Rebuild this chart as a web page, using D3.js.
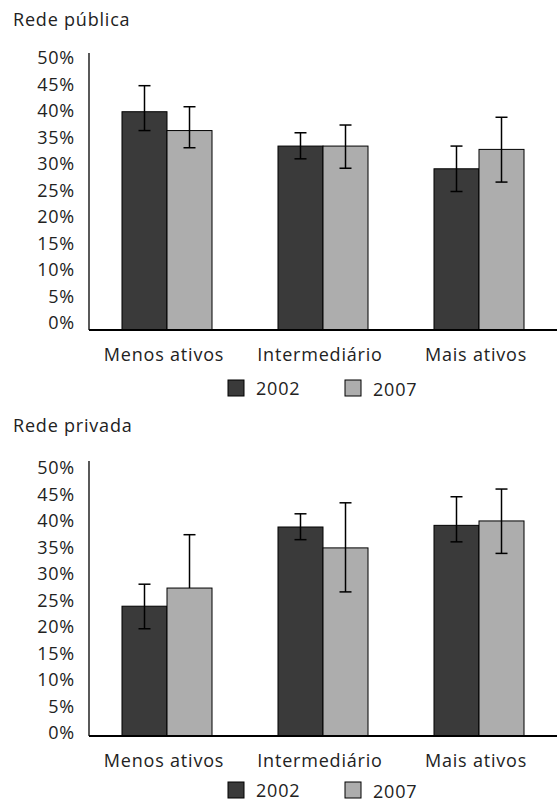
<!DOCTYPE html>
<html>
<head>
<meta charset="utf-8">
<script src="https://cdn.jsdelivr.net/npm/d3@7"></script>
<style>
  body { margin: 0; background: #fff; }
  svg text { font-family: "Open Sans", sans-serif; font-size: 18px; fill: #222; letter-spacing: 0.8px; }
</style>
</head>
<body>
<div id="chart"></div>
<script>
// categories, series and tick labels
var categories = ["Menos ativos", "Intermediário", "Mais ativos"];
var years = ["2002", "2007"];
var tickValues = [0, 0.05, 0.10, 0.15, 0.20, 0.25, 0.30, 0.35, 0.40, 0.45, 0.50];
var tickLabels = ["0%", "5%", "10%", "15%", "20%", "25%", "30%", "35%", "40%", "45%", "50%"];

// Rede pública
var publica2002 = [0.394, 0.332, 0.291];
var publica2002Low = [0.360, 0.309, 0.250];
var publica2002High = [0.441, 0.356, 0.332];
var publica2007 = [0.360, 0.332, 0.326];
var publica2007Low = [0.329, 0.292, 0.267];
var publica2007High = [0.403, 0.370, 0.384];

// Rede privada (no lower bar on the first 2007 value)
var privada2002 = [0.236, 0.380, 0.383];
var privada2002Low = [0.195, 0.357, 0.353];
var privada2002High = [0.276, 0.404, 0.435];
var privada2007 = [0.269, 0.342, 0.391];
var privada2007Low = [null, 0.262, 0.332];
var privada2007High = [0.366, 0.424, 0.449];

var colors = { "2002": "#3a3a3a", "2007": "#adadad" };

var W = 557, H = 805;
var svg = d3.select("#chart").append("svg")
    .attr("width", W)
    .attr("height", H);

/**
 * Draw one panel: title, bars, error bars, axes and legend
 */
function drawPanel(opt) {
    var g = svg.append("g");

    // Build rows from the arrays
    var rows = categories.map(function(c, i) {
        return {
            cat: c,
            bars: [
                { year: "2002", v: opt.v2002[i], lo: opt.lo2002[i], hi: opt.hi2002[i] },
                { year: "2007", v: opt.v2007[i], lo: opt.lo2007[i], hi: opt.hi2007[i] }
            ]
        };
    });

    var x0 = d3.scaleBand()
        .domain(categories)
        .range([89, 557])
        .paddingInner(0.423)
        .paddingOuter(0.2115);
    var x1 = d3.scaleBand()
        .domain(years)
        .range([0, x0.bandwidth()]);
    var y = d3.scaleLinear()
        .domain([0, 0.5])
        .range([opt.base, opt.top]);
    // tick labels sit slightly inside the axis ends in the original
    var yLab = d3.scaleLinear()
        .domain([0, 0.5])
        .range(opt.labelRange);

    // Title
    g.append("text")
        .attr("x", 13)
        .attr("y", opt.titleY)
        .text(opt.title);

    // Y tick labels
    var yAxis = g.append("g")
        .attr("transform", "translate(75,0)")
        .call(d3.axisLeft(yLab).tickValues(tickValues).tickSize(0).tickPadding(0)
            .tickFormat(function(d, i) { return tickLabels[i]; }));
    yAxis.select(".domain").remove();
    yAxis.selectAll("text")
        .attr("font-family", null)
        .attr("font-size", null)
        .style("fill", "#222");

    // Bars
    var groups = g.selectAll("g.cat")
        .data(rows)
        .enter().append("g")
        .attr("class", "cat")
        .attr("transform", function(d) { return "translate(" + x0(d.cat) + ",0)"; });

    groups.selectAll("rect")
        .data(function(d) { return d.bars; })
        .enter().append("rect")
        .attr("x", function(d) { return x1(d.year); })
        .attr("y", function(d) { return y(d.v); })
        .attr("width", x1.bandwidth())
        .attr("height", function(d) { return y(0) - y(d.v); })
        .attr("fill", function(d) { return colors[d.year]; })
        .attr("stroke", "#000")
        .attr("stroke-width", 1);

    // Error bars
    var cap = 6;
    var err = groups.selectAll("g.err")
        .data(function(d) { return d.bars; })
        .enter().append("g")
        .attr("class", "err")
        .attr("transform", function(d) { return "translate(" + (x1(d.year) + x1.bandwidth() / 2) + ",0)"; })
        .attr("stroke", "#000")
        .attr("stroke-width", 1.5);

    err.append("line")
        .attr("y1", function(d) { return y(d.hi); })
        .attr("y2", function(d) { return y(d.lo == null ? d.v : d.lo); });
    err.append("line")
        .attr("x1", -cap).attr("x2", cap)
        .attr("y1", function(d) { return y(d.hi); })
        .attr("y2", function(d) { return y(d.hi); });
    err.filter(function(d) { return d.lo != null; })
        .append("line")
        .attr("x1", -cap).attr("x2", cap)
        .attr("y1", function(d) { return y(d.lo); })
        .attr("y2", function(d) { return y(d.lo); });

    // Axis lines
    g.append("line")
        .attr("x1", 89).attr("x2", 89)
        .attr("y1", y(0.5)).attr("y2", y(0))
        .attr("stroke", "#000").attr("stroke-width", 1.3);
    g.append("line")
        .attr("x1", 89).attr("x2", 557)
        .attr("y1", y(0)).attr("y2", y(0))
        .attr("stroke", "#000").attr("stroke-width", 2);

    // Category labels
    g.selectAll("text.cat-label")
        .data(categories)
        .enter().append("text")
        .attr("class", "cat-label")
        .attr("x", function(d) { return x0(d) + x0.bandwidth() / 2 - 3; })
        .attr("y", opt.base + 31)
        .attr("text-anchor", "middle")
        .text(function(d) { return d; });

    // Legend
    var legendX = [228, 345];
    var leg = g.selectAll("g.legend")
        .data(years)
        .enter().append("g")
        .attr("class", "legend")
        .attr("transform", function(d, i) { return "translate(" + legendX[i] + "," + (opt.base + opt.legendDy) + ")"; });
    leg.append("rect")
        .attr("width", 16)
        .attr("height", 16)
        .attr("fill", function(d) { return colors[d]; })
        .attr("stroke", "#000")
        .attr("stroke-width", 1);
    leg.append("text")
        .attr("x", 28)
        .attr("y", function(d, i) { return 15 + i; })
        .text(function(d) { return d; });
}

drawPanel({
    title: "Rede pública", titleY: 26, top: 53, base: 330, labelRange: [323, 58], legendDy: 50,
    v2002: publica2002, lo2002: publica2002Low, hi2002: publica2002High,
    v2007: publica2007, lo2007: publica2007Low, hi2007: publica2007High
});

drawPanel({
    title: "Rede privada", titleY: 432, top: 461, base: 736, labelRange: [733, 468], legendDy: 46,
    v2002: privada2002, lo2002: privada2002Low, hi2002: privada2002High,
    v2007: privada2007, lo2007: privada2007Low, hi2007: privada2007High
});
</script>
</body>
</html>
